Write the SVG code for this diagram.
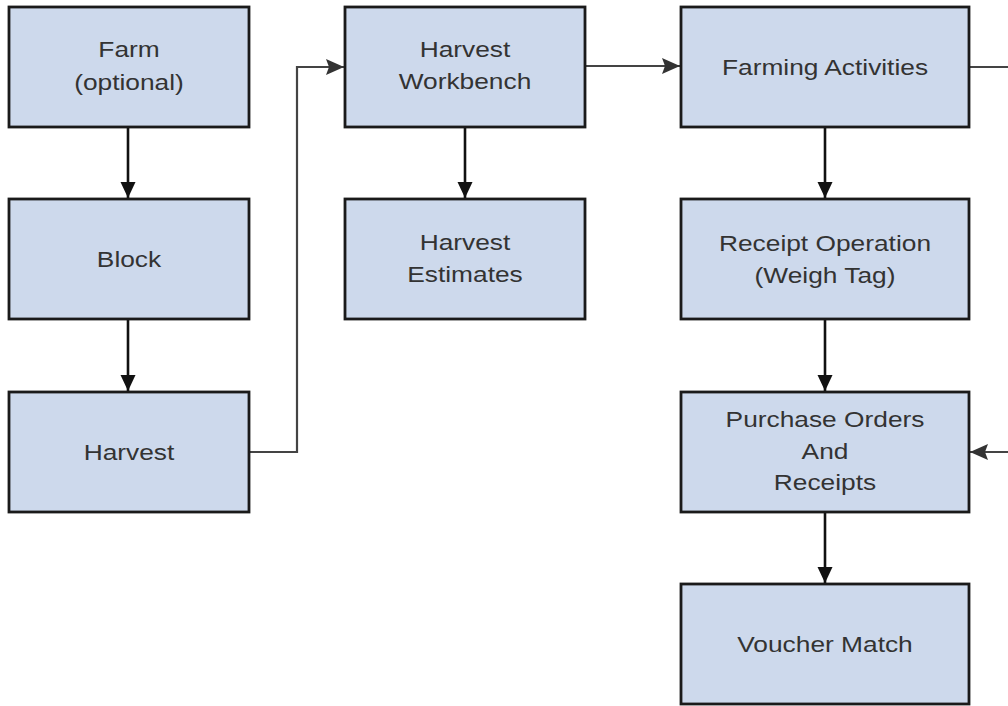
<svg xmlns="http://www.w3.org/2000/svg" width="1008" height="706" viewBox="0 0 1008 706">
<defs>
<style>
.box{fill:#cdd9ec;stroke:#1a1a1a;stroke-width:2.8}
.lbl{font-family:"Liberation Sans",Arial,sans-serif;font-size:22.5px;fill:#333;text-anchor:middle}
.blk{fill:none;stroke:#111;stroke-width:2.6}
.gry{fill:none;stroke:#444;stroke-width:2.2}
</style>
<marker id="ab" viewBox="0 0 16 16" refX="16" refY="8" markerWidth="16" markerHeight="16" markerUnits="userSpaceOnUse" orient="auto">
<path d="M0,0.5 L16,8 L0,15.5 Z" fill="#111"/>
</marker>
<marker id="ag" viewBox="0 0 18 18" refX="18" refY="9" markerWidth="18" markerHeight="18" markerUnits="userSpaceOnUse" orient="auto">
<path d="M0,1 L18,9 L0,17 L3,9 Z" fill="#333"/>
</marker>
</defs>
<rect width="1008" height="706" fill="#fff"/>
<g id="connectors">
<line class="blk" x1="128" y1="127" x2="128" y2="198" marker-end="url(#ab)"/>
<line class="blk" x1="128" y1="319" x2="128" y2="391" marker-end="url(#ab)"/>
<line class="blk" x1="465" y1="127" x2="465" y2="198" marker-end="url(#ab)"/>
<line class="blk" x1="825" y1="127" x2="825" y2="198" marker-end="url(#ab)"/>
<line class="blk" x1="825" y1="319" x2="825" y2="391" marker-end="url(#ab)"/>
<line class="blk" x1="825" y1="512" x2="825" y2="583" marker-end="url(#ab)"/>
<polyline class="gry" points="249,452 297,452 297,67 344,67" marker-end="url(#ag)"/>
<line class="gry" x1="585" y1="66" x2="680" y2="66" marker-end="url(#ag)"/>
<line class="gry" x1="969" y1="67" x2="1008" y2="67"/>
<line class="gry" x1="1008" y1="452" x2="970" y2="452" marker-end="url(#ag)"/>
</g>
<g id="farm"><rect class="box" x="9" y="7" width="240" height="120"/>
<text class="lbl" transform="translate(129 0) scale(1.17 1)"><tspan x="0" y="57">Farm</tspan><tspan x="0" y="90">(optional)</tspan></text></g>
<g id="block"><rect class="box" x="9" y="199" width="240" height="120"/>
<text class="lbl" transform="translate(129 0) scale(1.17 1)" x="0" y="267">Block</text></g>
<g id="harvest"><rect class="box" x="9" y="392" width="240" height="120"/>
<text class="lbl" transform="translate(129 0) scale(1.17 1)" x="0" y="460">Harvest</text></g>
<g id="harvest-workbench"><rect class="box" x="345" y="7" width="240" height="120"/>
<text class="lbl" transform="translate(465 0) scale(1.17 1)"><tspan x="0" y="57">Harvest</tspan><tspan x="0" y="89">Workbench</tspan></text></g>
<g id="harvest-estimates"><rect class="box" x="345" y="199" width="240" height="120"/>
<text class="lbl" transform="translate(465 0) scale(1.17 1)"><tspan x="0" y="250">Harvest</tspan><tspan x="0" y="282">Estimates</tspan></text></g>
<g id="farming-activities"><rect class="box" x="681" y="7" width="288" height="120"/>
<text class="lbl" transform="translate(825 0) scale(1.17 1)" x="0" y="75">Farming Activities</text></g>
<g id="receipt-operation"><rect class="box" x="681" y="199" width="288" height="120"/>
<text class="lbl" transform="translate(825 0) scale(1.17 1)"><tspan x="0" y="251">Receipt Operation</tspan><tspan x="0" y="283">(Weigh Tag)</tspan></text></g>
<g id="purchase-orders"><rect class="box" x="681" y="392" width="288" height="120"/>
<text class="lbl" transform="translate(825 0) scale(1.17 1)"><tspan x="0" y="427">Purchase Orders</tspan><tspan x="0" y="459">And</tspan><tspan x="0" y="490">Receipts</tspan></text></g>
<g id="voucher-match"><rect class="box" x="681" y="584" width="288" height="120"/>
<text class="lbl" transform="translate(825 0) scale(1.17 1)" x="0" y="652">Voucher Match</text></g>
</svg>
